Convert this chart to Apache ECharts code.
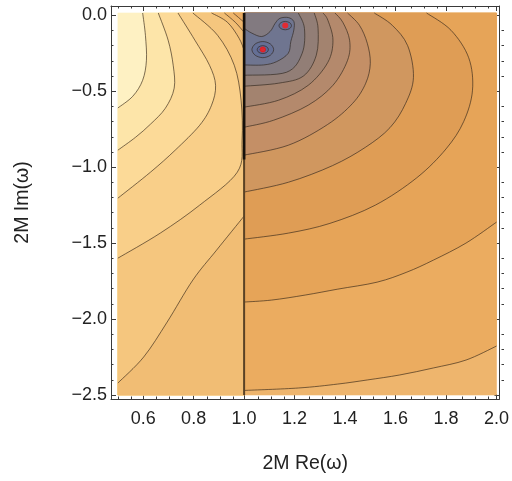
<!DOCTYPE html>
<html>
<head>
<meta charset="utf-8">
<script src="https://cdn.jsdelivr.net/npm/echarts@6/dist/echarts.min.js"></script>
<style>
html, body { margin: 0; padding: 0; background: #fff; }
#chart { width: 512px; height: 481px; }
</style>
</head>
<body>
<div id="chart"></div>
<script>
// plot range and branch cut
var xRange = [0.5, 2.0];
var yRange = [-2.5, 0.015];
var cutX = 1.0;

// ticks
var xTicks = [0.6, 0.8, 1.0, 1.2, 1.4, 1.6, 1.8, 2.0];
var xTickLabels = ['0.6', '0.8', '1.0', '1.2', '1.4', '1.6', '1.8', '2.0'];
var yTicks = [0, -0.5, -1.0, -1.5, -2.0, -2.5];
var yTickLabels = ['0.0', '\u22120.5', '\u22121.0', '\u22121.5', '\u22122.0', '\u22122.5'];
var xMinor = [0.5, 0.55, 0.65, 0.7, 0.75, 0.85, 0.9, 0.95, 1.05, 1.1, 1.15, 1.25, 1.3, 1.35,
  1.45, 1.5, 1.55, 1.65, 1.7, 1.75, 1.85, 1.9, 1.95];
var yMinor = [-0.1, -0.2, -0.3, -0.4, -0.6, -0.7, -0.8, -0.9, -1.1, -1.2, -1.3, -1.4,
  -1.6, -1.7, -1.8, -1.9, -2.1, -2.2, -2.3, -2.4];

// contours left of the cut
var L1 = [[0.598, 0.015], [0.609, -0.132], [0.613, -0.296], [0.598, -0.428], [0.559, -0.533], [0.5, -0.61]];
var L2 = [[0.66, 0.015], [0.699, -0.164], [0.719, -0.329], [0.723, -0.48], [0.688, -0.612], [0.629, -0.717], [0.57, -0.803], [0.5, -0.888]];
var L3 = [[0.738, 0.015], [0.805, -0.164], [0.863, -0.329], [0.887, -0.461], [0.871, -0.592], [0.824, -0.724], [0.727, -0.888], [0.629, -1.033], [0.5, -1.204]];
var L4 = [[0.797, 0.015], [0.895, -0.132], [0.961, -0.329], [0.988, -0.559], [0.992, -0.822], [0.973, -1.033], [0.824, -1.25], [0.668, -1.434], [0.5, -1.599]];
var L5 = [[1.0, -1.322], [0.891, -1.546], [0.797, -1.743], [0.695, -2.02], [0.602, -2.25], [0.5, -2.421]];
var L6 = [[0.871, 0.015], [0.934, -0.046], [0.98, -0.151], [1.0, -0.23]];
var L7 = [[0.922, 0.015], [0.965, -0.046], [1.0, -0.112]];
var L8 = [[0.957, 0.015], [1.0, -0.046]];

// contours right of the cut, outermost first
var R1 = [[1.0, -2.47], [1.215, -2.454], [1.371, -2.428], [1.488, -2.401], [1.617, -2.368], [1.75, -2.322], [1.879, -2.27], [2.0, -2.178]];
var R2 = [[1.0, -1.888], [1.109, -1.875], [1.242, -1.842], [1.371, -1.803], [1.527, -1.757], [1.645, -1.691], [1.75, -1.612], [1.879, -1.5], [2.0, -1.362]];
var R3 = [[1.0, -1.474], [1.176, -1.434], [1.34, -1.37], [1.52, -1.25], [1.684, -1.07], [1.8, -0.88], [1.87, -0.7], [1.905, -0.493], [1.89, -0.28], [1.82, -0.099], [1.723, 0.015]];
var R4 = [[1.0, -1.164], [1.176, -1.099], [1.35, -0.99], [1.48, -0.87], [1.578, -0.74], [1.64, -0.58], [1.671, -0.408], [1.648, -0.2], [1.587, -0.066], [1.516, 0.015]];
var R5 = [[1.0, -0.921], [1.176, -0.855], [1.33, -0.72], [1.43, -0.58], [1.482, -0.447], [1.5, -0.316], [1.488, -0.184], [1.457, -0.066], [1.41, 0.015]];
var R6 = [[1.0, -0.737], [1.117, -0.691], [1.254, -0.592], [1.352, -0.461], [1.41, -0.296], [1.418, -0.164], [1.391, -0.046], [1.36, 0.015]];
var R7 = [[1.0, -0.605], [1.137, -0.559], [1.254, -0.461], [1.332, -0.309], [1.352, -0.164], [1.332, -0.033], [1.313, 0.015]];
var R8 = [[1.0, -0.467], [1.137, -0.447], [1.235, -0.4], [1.286, -0.263], [1.293, -0.086], [1.278, 0.015]];
var R9 = [[1.0, -0.395], [1.168, -0.375], [1.23, -0.25], [1.239, -0.086], [1.215, 0.015]];
var blob = [[1.0, -0.327], [1.077, -0.327], [1.129, -0.305], [1.175, -0.25], [1.185, -0.173], [1.197, -0.097], [1.197, -0.041],
  [1.175, -0.015], [1.142, -0.02], [1.123, -0.053], [1.103, -0.107], [1.07, -0.14], [1.031, -0.118], [1.0, -0.086]];
// closed rings round the zeros
var ringA = [[1.117, -0.226], [1.104, -0.189], [1.074, -0.173], [1.044, -0.189], [1.031, -0.226], [1.044, -0.263], [1.074, -0.279], [1.104, -0.263]];
var ringB = [[1.096, -0.226], [1.0896, -0.2076], [1.074, -0.2], [1.0584, -0.2076], [1.052, -0.226], [1.0584, -0.2444], [1.074, -0.252], [1.0896, -0.2444]];
var ringC = [[1.0845, -0.226], [1.0814, -0.2168], [1.074, -0.213], [1.0666, -0.2168], [1.0635, -0.226], [1.0666, -0.2352], [1.074, -0.239], [1.0814, -0.2352]];
var ringD = [[1.1876, -0.068], [1.1804, -0.0485], [1.163, -0.0404], [1.1456, -0.0485], [1.1384, -0.068], [1.1456, -0.0875], [1.163, -0.0956], [1.1804, -0.0875]];

// zeros marked in red
var zeros = [[1.074, -0.226], [1.163, -0.068]];

// band colours
var leftColors = ['#fef1c3', '#fde5a9', '#fcda98', '#f9cf89', '#f5c67e', '#f1bd74', '#eeb56b', '#eaac63'];
var rightColors = ['#eeb56d', '#ebac60', '#e6a458', '#df9d55', '#d0975f', '#c48f66', '#b4896c', '#a3836f',
  '#927e76', '#827a80', '#6f7590', '#646f95', '#5a6898', '#52629a'];

var xL = xRange[0], xR = xRange[1], yB = yRange[0], yT = yRange[1];
var leftTail = [[xL, yB], [cutX, yB], [cutX, yT]];

// painter's order: each entry covers the lower-valued side of one contour
var fills = [
  { curve: null, tail: [[xL, yT], [cutX, yT], [cutX, yB], [xL, yB]], color: leftColors[0] },
  { curve: L1, tail: leftTail, color: leftColors[1] },
  { curve: L2, tail: leftTail, color: leftColors[2] },
  { curve: L3, tail: leftTail, color: leftColors[3] },
  { curve: L4, tail: leftTail, color: leftColors[4] },
  { curve: L5, tail: [[xL, yB], [cutX, yB]], color: leftColors[5] },
  { curve: L6, tail: [[cutX, yT]], color: leftColors[5] },
  { curve: L7, tail: [[cutX, yT]], color: leftColors[6] },
  { curve: L8, tail: [[cutX, yT]], color: leftColors[7] },
  { curve: null, tail: [[cutX, yT], [xR, yT], [xR, yB], [cutX, yB]], color: rightColors[0] },
  { curve: R1, tail: [[xR, yT], [cutX, yT]], color: rightColors[1] },
  { curve: R2, tail: [[xR, yT], [cutX, yT]], color: rightColors[2] },
  { curve: R3, tail: [[cutX, yT]], color: rightColors[3] },
  { curve: R4, tail: [[cutX, yT]], color: rightColors[4] },
  { curve: R5, tail: [[cutX, yT]], color: rightColors[5] },
  { curve: R6, tail: [[cutX, yT]], color: rightColors[6] },
  { curve: R7, tail: [[cutX, yT]], color: rightColors[7] },
  { curve: R8, tail: [[cutX, yT]], color: rightColors[8] },
  { curve: R9, tail: [[cutX, yT]], color: rightColors[9] },
  { curve: blob, tail: [], color: rightColors[10] },
  { curve: ringA, ring: true, tail: [], color: rightColors[11] },
  { curve: ringD, ring: true, tail: [], color: rightColors[11] },
  { curve: ringB, ring: true, tail: [], color: rightColors[12] },
  { curve: ringC, ring: true, tail: [], color: rightColors[13] }
];

var contours = [
  { curve: L1 }, { curve: L2 }, { curve: L3 }, { curve: L4 }, { curve: L5 },
  { curve: L6 }, { curve: L7 }, { curve: L8 },
  { curve: R1 }, { curve: R2 }, { curve: R3 }, { curve: R4 }, { curve: R5 },
  { curve: R6 }, { curve: R7 }, { curve: R8 }, { curve: R9 }, { curve: blob },
  { curve: ringA, ring: true }, { curve: ringB, ring: true }, { curve: ringC, ring: true }, { curve: ringD, ring: true }
];

// smooth path through pixel points (Catmull-Rom as cubic Beziers)
function curvePath(p, ring, start) {
  var n = p.length;
  var d = (start ? 'M' : 'L') + p[0][0].toFixed(2) + ' ' + p[0][1].toFixed(2);
  var segs = ring ? n : n - 1;
  function at(i) {
    if (ring) return p[(i + n) % n];
    return p[Math.max(0, Math.min(n - 1, i))];
  }
  for (var i = 0; i < segs; i++) {
    var p0 = at(i - 1), p1 = at(i), p2 = at(i + 1), p3 = at(i + 2);
    var c1x = p1[0] + (p2[0] - p0[0]) / 6, c1y = p1[1] + (p2[1] - p0[1]) / 6;
    var c2x = p2[0] - (p3[0] - p1[0]) / 6, c2y = p2[1] - (p3[1] - p1[1]) / 6;
    d += 'C' + c1x.toFixed(2) + ' ' + c1y.toFixed(2) + ' ' + c2x.toFixed(2) + ' ' + c2y.toFixed(2) +
      ' ' + p2[0].toFixed(2) + ' ' + p2[1].toFixed(2);
  }
  return d;
}

// frame geometry: data area sits inside the frame with a few px padding
var gridBox = { left: 111, right: 8, top: 6, bottom: 82 };
var pad = { l: 7, r: 3, t: 7, b: 4 };
var boxW = 512 - gridBox.left - gridBox.right;
var boxH = 481 - gridBox.top - gridBox.bottom;
var sx = (boxW - pad.l - pad.r) / (xR - xL);
var sy = (boxH - pad.t - pad.b) / (yT - yB);
var xMin = xL - pad.l / sx, xMax = xR + pad.r / sx;
var yMin = yB - pad.b / sy, yMax = yT + pad.t / sy;

var font = 'Liberation Sans, Arial, sans-serif';
var frameColor = '#3a3a3a';

function lookup(vals, labels) {
  return function (v) {
    for (var i = 0; i < vals.length; i++) {
      if (Math.abs(vals[i] - v) < 1e-6) return labels[i];
    }
    return '';
  };
}

function frameAxis(pos, min, max, ticks, labels, grid, minor) {
  return {
    type: 'value', gridIndex: grid, position: pos, min: min, max: max,
    axisLine: { show: !minor, onZero: false, lineStyle: { color: frameColor, width: 1 } },
    axisTick: { show: true, inside: true, length: minor ? 2.5 : 5, customValues: ticks,
      lineStyle: { color: frameColor, width: 1 } },
    axisLabel: labels ? {
      show: true, customValues: ticks, formatter: lookup(ticks, labels),
      fontSize: 18, fontFamily: font, color: '#222', margin: pos === 'bottom' ? 11 : 4
    } : { show: false },
    splitLine: { show: false }
  };
}

var xAxes = [
  frameAxis('bottom', xMin, xMax, xTicks, xTickLabels, 0, false),
  frameAxis('top', xMin, xMax, xTicks, null, 0, false),
  frameAxis('bottom', xMin, xMax, xMinor, null, 1, true),
  frameAxis('top', xMin, xMax, xMinor, null, 1, true)
];
xAxes[0].name = '2M Re(\u03c9)';
xAxes[0].nameLocation = 'middle';
xAxes[0].nameGap = 55;
xAxes[0].nameTextStyle = { fontSize: 19.5, fontFamily: font, color: '#222' };

var yAxes = [
  frameAxis('left', yMin, yMax, yTicks, yTickLabels, 0, false),
  frameAxis('right', yMin, yMax, yTicks, null, 0, false),
  frameAxis('left', yMin, yMax, yMinor, null, 1, true),
  frameAxis('right', yMin, yMax, yMinor, null, 1, true)
];
yAxes[0].name = '2M Im(\u03c9)';
yAxes[0].nameLocation = 'middle';
yAxes[0].nameGap = 78;
yAxes[0].nameTextStyle = { fontSize: 19.5, fontFamily: font, color: '#222' };

var series = [];

// filled bands
series.push({
  type: 'custom', xAxisIndex: 0, yAxisIndex: 0, silent: true, z: 1,
  data: fills.map(function (f, i) { return [i]; }),
  renderItem: function (params, api) {
    var f = fills[params.dataIndex];
    var d = '';
    if (f.curve) {
      d = curvePath(f.curve.map(function (p) { return api.coord(p); }), f.ring, true);
    }
    f.tail.forEach(function (p) {
      var c = api.coord(p);
      d += ((d === '') ? 'M' : 'L') + c[0].toFixed(2) + ' ' + c[1].toFixed(2);
    });
    d += 'Z';
    return {
      type: 'path',
      shape: { pathData: d },
      style: { fill: f.color, stroke: f.color, lineWidth: 0.6 }
    };
  }
});

// contour lines
series.push({
  type: 'custom', xAxisIndex: 0, yAxisIndex: 0, silent: true, z: 2,
  data: contours.map(function (c, i) { return [i]; }),
  renderItem: function (params, api) {
    var c = contours[params.dataIndex];
    var d = curvePath(c.curve.map(function (p) { return api.coord(p); }), c.ring, true);
    if (c.ring) d += 'Z';
    return {
      type: 'path',
      shape: { pathData: d },
      style: { fill: 'none', stroke: 'rgba(50,38,25,0.8)', lineWidth: 0.8 }
    };
  }
});

// the branch cut along Re = 1
series.push({
  type: 'line', xAxisIndex: 0, yAxisIndex: 0,
  data: [[cutX, yT], [cutX, yB]], showSymbol: false, silent: true,
  lineStyle: { color: '#5a4226', width: 2 }, z: 3
});
series.push({
  type: 'line', xAxisIndex: 0, yAxisIndex: 0,
  data: [[cutX, yT], [cutX, -0.95]], showSymbol: false, silent: true,
  lineStyle: { color: '#16100a', width: 2.6 }, z: 3
});

series.push({
  type: 'scatter', xAxisIndex: 0, yAxisIndex: 0,
  data: zeros, symbolSize: 6, silent: true,
  itemStyle: { color: '#ff1a1a' }, z: 4
});

var chart = echarts.init(document.getElementById('chart'), null, { renderer: 'canvas' });
chart.setOption({
  animation: false,
  backgroundColor: '#ffffff',
  grid: [
    { left: gridBox.left, right: gridBox.right, top: gridBox.top, bottom: gridBox.bottom },
    { left: gridBox.left, right: gridBox.right, top: gridBox.top, bottom: gridBox.bottom }
  ],
  xAxis: xAxes,
  yAxis: yAxes,
  series: series
});
</script>
</body>
</html>
